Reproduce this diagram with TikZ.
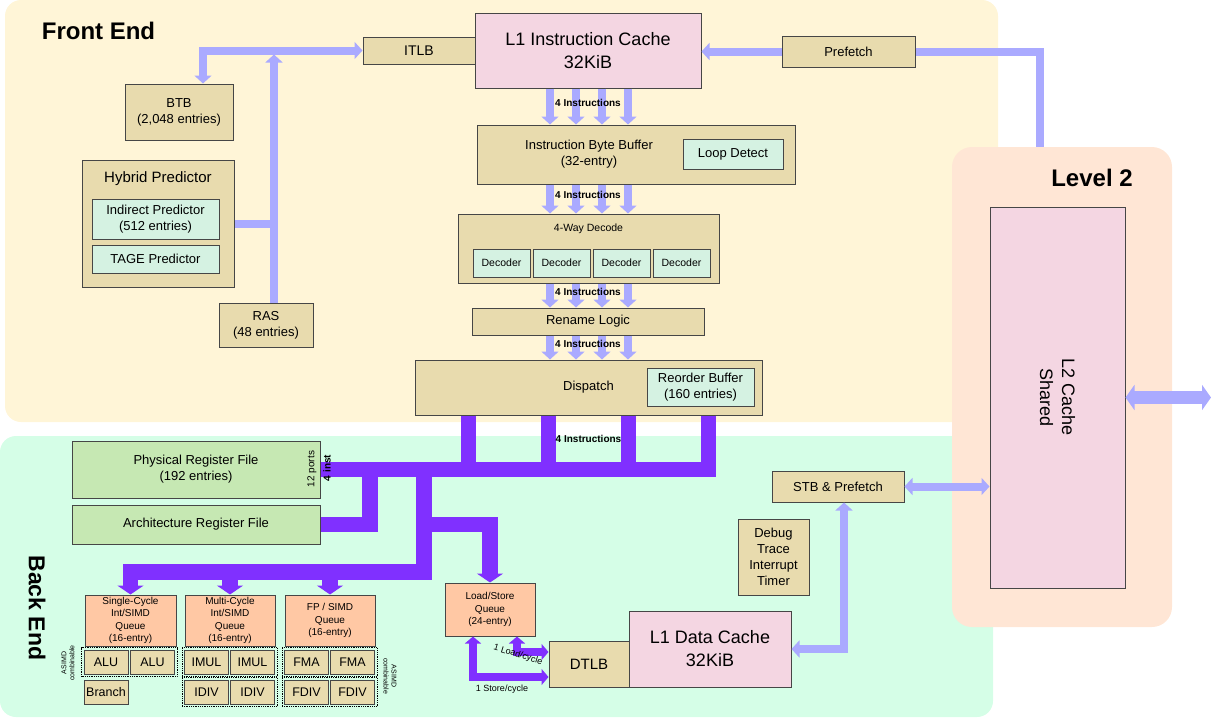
\documentclass[tikz,border=0pt]{standalone}
\usepackage{fontspec}
\setmainfont{Liberation Sans}
\usetikzlibrary{arrows.meta, positioning, calc, fit}

\definecolor{frontyellow}{RGB}{255, 245, 215}
\definecolor{backgreen}{RGB}{213, 254, 231}
\definecolor{levelpeach}{RGB}{255, 230, 213}
\definecolor{boxtan}{RGB}{232, 219, 174}
\definecolor{cachepink}{RGB}{244, 214, 226}
\definecolor{unitmint}{RGB}{213, 242, 226}
\definecolor{regfgreen}{RGB}{198, 232, 179}
\definecolor{queuesalmon}{RGB}{255, 200, 164}
\definecolor{buslblue}{RGB}{170, 170, 255}
\definecolor{buspurple}{RGB}{128, 48, 255}
\definecolor{edgegray}{RGB}{70, 70, 70}

\begin{document}
\begin{tikzpicture}[x=1pt, y=-1pt,
  region/.style={rectangle, rounded corners=16pt, inner sep=0pt},
  title/.style={inner sep=0pt, font=\fontsize{24}{28}\selectfont\bfseries},
  lbl/.style={inner sep=0pt, align=center, font=\fontsize{13}{16}\selectfont},
  box/.style={draw=edgegray, line width=1pt, fill=boxtan, inner sep=0pt, align=center, font=\fontsize{13}{16}\selectfont},
  subbox/.style={box, fill=unitmint},
  cachebox/.style={box, fill=cachepink, font=\fontsize{18}{23}\selectfont},
  regbox/.style={box, fill=regfgreen},
  queuebox/.style={box, fill=queuesalmon, minimum width=90, minimum height=51, font=\fontsize{10}{12.5}\selectfont},
  unitbox/.style={box, minimum width=44, minimum height=24, font=\fontsize{12.5}{15}\selectfont},
  grpbox/.style={draw=black, densely dotted, line width=0.8pt, inner sep=2pt},
  countlbl/.style={inner sep=0pt, font=\fontsize{10}{11}\selectfont\bfseries},
  tinylbl/.style={inner sep=0pt, align=center, font=\fontsize{7}{8}\selectfont},
  bluebus/.style={draw=buslblue, line width=8pt, line join=miter, >={Triangle[length=8pt, width=17pt]}},
  purplebus/.style={draw=buspurple, line width=15.5pt, line join=miter, >={Triangle[length=9pt, width=26pt]}},
  lsbus/.style={draw=buspurple, line width=8pt, line join=miter, >={Triangle[length=7pt, width=16pt]}}]

  \useasboundingbox (0,0) rectangle (1211,718);

  % Regions
  \node[region, fill=frontyellow, minimum width=993, minimum height=422] (frontreg) at (501.5,211) {};
  \node[region, fill=backgreen, minimum width=993, minimum height=281] (backreg) at (496.5,576.5) {};
  \node[region, fill=levelpeach, minimum width=220, minimum height=480, rounded corners=20pt] (l2reg) at (1062,387) {};

  \node[title] (fronttitle) at (98.5,31) {Front End};
  \node[title] (l2title) at (1092,178) {Level 2};
  \node[title, rotate=-90, font=\fontsize{23}{28}\selectfont\bfseries] (backtitle) at (37,608) {Back End};

  % Front end: fetch and branch prediction
  \node[box, minimum width=112, minimum height=27, font=\fontsize{14}{16}\selectfont] (itlb) at (419,50.5) {ITLB};
  \node[cachebox, minimum width=226, minimum height=75] (l1i) at (588,50.5) {L1 Instruction Cache\\32KiB};
  \node[box, minimum width=133, minimum height=31] (pf) at (848.5,51.5) {Prefetch};
  \node[box, minimum width=108, minimum height=56] (btb) at (179,112) {BTB\\(2,048 entries)};
  \node[box, minimum width=152, minimum height=127] (hyb) at (158,223.5) {};
  \node[lbl, font=\fontsize{15}{17}\selectfont] (hybtitle) at (158,179) {Hybrid Predictor};
  \node[subbox, minimum width=127, minimum height=40] (ind) at (155.5,219) {Indirect Predictor\\(512 entries)};
  \node[subbox, minimum width=127, minimum height=28] (tage) at (155.5,259) {TAGE Predictor};
  \node[box, minimum width=94, minimum height=44] (ras) at (266,325) {RAS\\(48 entries)};

  % Front end: decode pipeline
  \node[box, minimum width=318, minimum height=59] (ibb) at (636,154.5) {};
  \node[lbl] (ibbtext) at (589,154) {Instruction Byte Buffer\\(32-entry)};
  \node[subbox, minimum width=100, minimum height=30] (loop) at (733,154) {Loop Detect};
  \node[box, minimum width=261, minimum height=69] (dec) at (588.5,248.5) {};
  \node[lbl, font=\fontsize{10.5}{12}\selectfont] (dectext) at (588.5,229) {4-Way Decode};
  \foreach \i/\x in {1/501.5, 2/561.5, 3/621.5, 4/681.5}
    \node[subbox, minimum width=57, minimum height=28, font=\fontsize{10.5}{12}\selectfont] (decoder\i) at (\x,263) {Decoder};
  \node[box, minimum width=232, minimum height=27] (ren) at (588,321.5) {Rename Logic};
  \node[box, minimum width=347, minimum height=55] (dsp) at (588.5,387.5) {Dispatch};
  \node[subbox, minimum width=107, minimum height=38] (rob) at (700.5,387) {Reorder Buffer\\(160 entries)};

  % Back end: registers and issue queues
  \node[regbox, minimum width=248, minimum height=57] (prf) at (196,469.5) {Physical Register File\\(192 entries)};
  \node[regbox, minimum width=248, minimum height=39] (arf) at (196,524.5) {Architecture Register File};
  \node[queuebox, minimum width=91] (scq) at (130.5,620.5) {Single-Cycle\\Int/SIMD\\Queue\\(16-entry)};
  \node[queuebox] (mcq) at (230,620.5) {Multi-Cycle\\Int/SIMD\\Queue\\(16-entry)};
  \node[queuebox] (fpq) at (330,620.5) {FP / SIMD\\Queue\\(16-entry)};
  \foreach \n/\x/\y/\t in {alu1/106/662/ALU, alu2/152.5/662/ALU, imul1/206.5/662/IMUL, imul2/252.5/662/IMUL,
      fma1/306.5/662/FMA, fma2/352.5/662/FMA, branch/106/692/Branch, idiv1/206.5/692/IDIV,
      idiv2/252.5/692/IDIV, fdiv1/306.5/692/FDIV, fdiv2/352.5/692/FDIV}
    \node[unitbox] (\n) at (\x,\y) {\t};
  \node[grpbox, fit=(alu1)(alu2)] (alugrp) {};
  \node[grpbox, fit=(imul1)(imul2)] (imulgrp) {};
  \node[grpbox, fit=(fma1)(fma2)] (fmagrp) {};
  \node[grpbox, fit=(idiv1)(idiv2)] (idivgrp) {};
  \node[grpbox, fit=(fdiv1)(fdiv2)] (fdivgrp) {};
  \node[tinylbl, rotate=90] (asimdl) at (68,663) {ASIMD\\combinable};
  \node[tinylbl, rotate=-90] (asimdr) at (390,676) {ASIMD\\combinable};

  % Back end: memory
  \node[queuebox, minimum height=53] (lsq) at (490,609.5) {Load/Store\\Queue\\(24-entry)};
  \node[box, minimum width=80, minimum height=46, font=\fontsize{15}{17}\selectfont] (dtlb) at (589,664) {DTLB};
  \node[cachebox, minimum width=162, minimum height=76] (l1d) at (710,649) {L1 Data Cache\\32KiB};
  \node[box, minimum width=132, minimum height=31] (stb) at (838,486.5) {STB \& Prefetch};
  \node[box, minimum width=71, minimum height=76] (dbg) at (773.5,557) {Debug\\Trace\\Interrupt\\Timer};

  % Level 2
  \node[cachebox, minimum width=135, minimum height=381] (l2) at (1057.5,397.5) {};
  \node[lbl, rotate=-90, font=\fontsize{18}{22}\selectfont] (l2text) at (l2.center) {L2 Cache\\Shared};

  % Branch prediction paths
  \coordinate (btbin) at ($(btb.north)+(24,0)$);
  \coordinate (rasout) at ($(ras.north)+(8,0)$);
  \draw[bluebus, <->] (btbin) -- (btbin |- itlb.west) -- (itlb.west);
  \draw[bluebus, ->, shorten >=4pt] (rasout) -- (rasout |- itlb.west);
  \draw[bluebus] (hyb.east) -- (hyb.east -| rasout);

  % Prefetch and L2 paths
  \coordinate (l2feed) at ($(l2reg.north)+(-22,0)$);
  \draw[bluebus, ->] (pf.west) -- (pf.west -| l1i.east);
  \draw[bluebus] (pf.east) -- (pf.east -| l2feed) -- (l2feed);
  \draw[bluebus, <->] (stb.east) -- (stb.east -| l2.west);
  \coordinate (stbdown) at ($(stb.south)+(6,0)$);
  \draw[bluebus, <->] (stbdown) -- (stbdown |- l1d.east) -- (l1d.east);
  \coordinate (l2ext) at (1211,397.5);
  \draw[bluebus, line width=13pt, >={Triangle[length=9pt, width=25pt]}, <->] (l2.east) -- (l2ext);

  % Four instructions per stage
  \foreach \a/\b in {l1i/ibb, ibb/dec, dec/ren, ren/dsp} {
    \foreach \dx in {-38,-12,14,40}
      \draw[bluebus, ->] ($(l1i.south |- \a.south)+(\dx,0)$) -- ($(l1i.south |- \b.north)+(\dx,0)$);
    \node[countlbl] at ($(l1i.south |- \a.south)!0.5!(l1i.south |- \b.north)+(0,-4)$) {4 Instructions};
  }

  % Dispatch bus
  \coordinate (regtap) at (370,469.5);
  \coordinate (queuetap) at (424,469.5);
  \coordinate (queuerow) at (424,572);
  \foreach \dx in {-120,-40,40,120}
    \draw[purplebus] ($(dsp.south)+(\dx,0)$) -- ($(dsp.south |- prf.east)+(\dx,0)$);
  \draw[purplebus] (prf.east) -- ($(dsp.south |- prf.east)+(127.5,0)$);
  \draw[purplebus] (regtap) -- (regtap |- arf.east) -- (arf.east);
  \draw[purplebus, ->] (queuetap) -- (queuerow) -- (queuerow -| scq.north) -- (scq.north);
  \draw[purplebus, ->] (queuerow -| mcq.north) -- (mcq.north);
  \draw[purplebus, ->] (queuerow -| fpq.north) -- (fpq.north);
  \draw[purplebus, ->] (queuetap |- arf.east) -- (arf.east -| lsq.north) -- (lsq.north);
  \node[countlbl] (buslbl) at ($(dsp.south)+(0,23)$) {4 Instructions};
  \node[lbl, rotate=90, font=\fontsize{10}{12}\selectfont] (ports) at (312,469) {12 ports};
  \node[lbl, rotate=90, font=\fontsize{10}{12}\selectfont\bfseries] (inst) at (327,468) {4 inst};

  % Load / store ports
  \coordinate (ldout) at ($(lsq.south)+(27,0)$);
  \coordinate (stout) at ($(lsq.south)+(-17,0)$);
  \coordinate (ldin) at ($(dtlb.west)+(0,-12)$);
  \coordinate (stin) at ($(dtlb.west)+(0,13)$);
  \draw[lsbus, <->] (ldout) -- (ldout |- ldin) -- (ldin);
  \draw[lsbus, <->] (stout) -- (stout |- stin) -- (stin);
  \node[tinylbl, rotate=-17, font=\fontsize{9}{10}\selectfont] (ldlbl) at (518,655) {1 Load/cycle};
  \node[tinylbl, font=\fontsize{9}{10}\selectfont] (stlbl) at (502,689) {1 Store/cycle};
\end{tikzpicture}
\end{document}
